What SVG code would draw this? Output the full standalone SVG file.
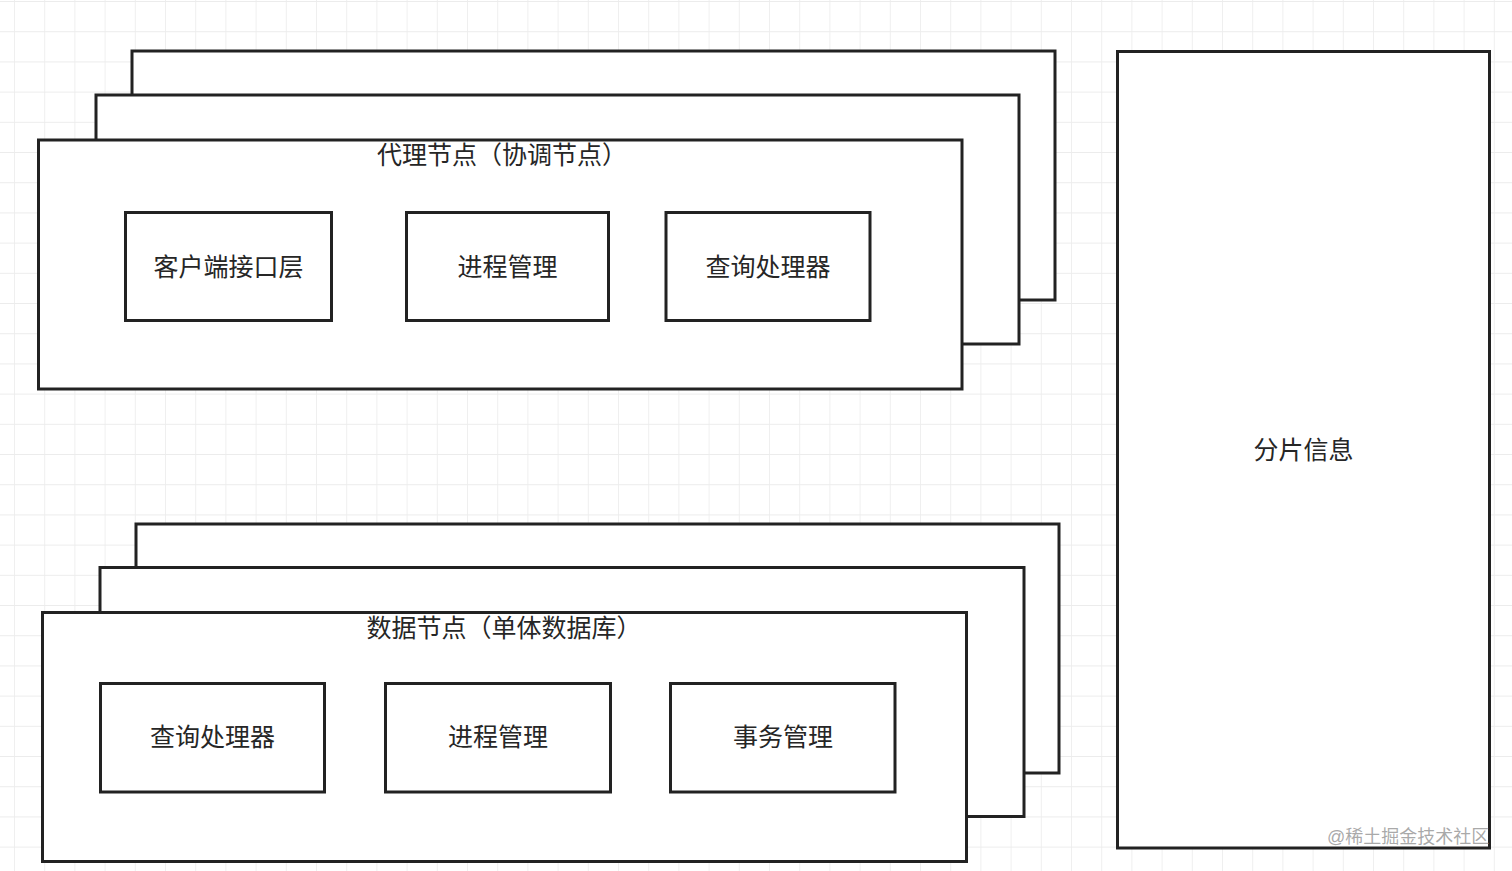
<svg xmlns="http://www.w3.org/2000/svg" width="1512" height="871" viewBox="0 0 1512 871">
<defs>
<pattern id="grid" x="14" y="2" width="30.2" height="30.2" patternUnits="userSpaceOnUse">
<path d="M0 0V30.2M0 30H30.2" fill="none" stroke="#ececec" stroke-width="1.6"/>
</pattern>
</defs>
<style>
.box{fill:#fff;stroke:#222;stroke-width:3}
.t{font-family:"Liberation Sans","Noto Sans CJK SC",sans-serif;font-size:25px;fill:#262626;text-anchor:middle}
.wm{font-family:"Liberation Sans","Noto Sans CJK SC",sans-serif;font-size:18px;fill:#9a9a9a;fill-opacity:0.85}
</style>
<rect width="1512" height="871" fill="#fff"/>
<rect width="1512" height="871" fill="url(#grid)"/>
<g id="proxy-group">
<rect id="proxy-back" class="box" x="132" y="51" width="923" height="249"/>
<rect id="proxy-mid" class="box" x="96" y="95" width="923" height="249"/>
<g id="proxy-node">
<rect class="box" x="38.5" y="140" width="923.5" height="249"/>
<text class="t" x="502" y="164">代理节点（协调节点）</text>
</g>
<g id="client-layer">
<rect class="box" x="125.5" y="212.5" width="206" height="108"/>
<text class="t" x="228.5" y="276">客户端接口层</text>
</g>
<g id="proc-mgmt-1">
<rect class="box" x="406.5" y="212.5" width="202" height="108"/>
<text class="t" x="507.5" y="276">进程管理</text>
</g>
<g id="query-proc-1">
<rect class="box" x="666" y="212.5" width="204" height="108"/>
<text class="t" x="768" y="276">查询处理器</text>
</g>
</g>
<g id="data-group">
<rect id="data-back" class="box" x="136" y="524" width="923" height="249"/>
<rect id="data-mid" class="box" x="100" y="567.5" width="924" height="249"/>
<g id="data-node">
<rect class="box" x="42.5" y="612.5" width="924" height="249"/>
<text class="t" x="504" y="637">数据节点（单体数据库）</text>
</g>
<g id="query-proc-2">
<rect class="box" x="100.5" y="683.5" width="224" height="108.5"/>
<text class="t" x="212.5" y="746">查询处理器</text>
</g>
<g id="proc-mgmt-2">
<rect class="box" x="385.5" y="683.5" width="225" height="108.5"/>
<text class="t" x="498" y="746">进程管理</text>
</g>
<g id="txn-mgmt">
<rect class="box" x="670.5" y="683.5" width="224.5" height="108.5"/>
<text class="t" x="783" y="746">事务管理</text>
</g>
</g>
<g id="shard-info">
<rect class="box" x="1117.5" y="51.5" width="372" height="796.5"/>
<text class="t" x="1303.5" y="459">分片信息</text>
</g>
<g id="connectors"></g>
<text class="wm" x="1327" y="843">@稀土掘金技术社区</text>
</svg>
